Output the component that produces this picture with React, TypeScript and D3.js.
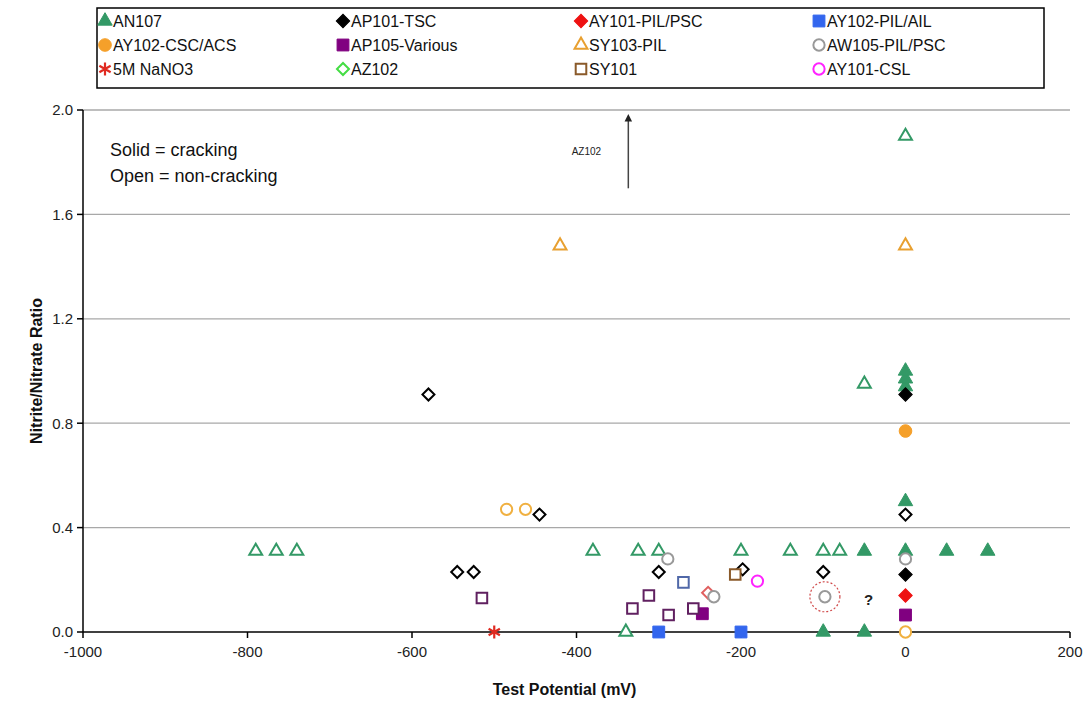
import React from "react";
import * as d3 from "d3";

// ---- data ----
// each point: [test potential mV, nitrite/nitrate ratio]
const an107Solid = [[-100, 0], [-50, 0], [-50, 0.31], [0, 0.31], [50, 0.31], [100, 0.31], [0, 0.5], [0, 0.94], [0, 0.97], [0, 1.0]];
const an107Open = [[-790, 0.31], [-765, 0.31], [-740, 0.31], [-380, 0.31], [-325, 0.31], [-300, 0.31], [-200, 0.31], [-140, 0.31], [-100, 0.31], [-80, 0.31], [-340, 0], [-50, 0.95], [0, 1.9]];
const ap101Solid = [[0, 0.91], [0, 0.22]];
const ap101Open = [[-580, 0.91], [-445, 0.45], [-545, 0.23], [-525, 0.23], [-300, 0.23], [-198, 0.24], [-100, 0.23], [0, 0.45]];
const ay101PilSolid = [[0, 0.14]];
const ay101PilOpen = [[-240, 0.15]];
const ay102PilSolid = [[-300, 0], [-200, 0]];
const ay102PilOpen = [[-270, 0.19]];
const ay102CscSolid = [[0, 0.77]];
const ay102CscOpen = [[-485, 0.47], [-462, 0.47], [0, 0]];
const ap105Solid = [[-247, 0.07], [0, 0.065]];
const ap105Open = [[-515, 0.13], [-312, 0.14], [-332, 0.09], [-288, 0.065], [-258, 0.09]];
const sy103Open = [[-420, 1.48], [0, 1.48]];
const aw105Open = [[-289, 0.28], [-233, 0.135], [-98, 0.135], [0, 0.28]];
const nano3 = [[-500, 0]];
const sy101Open = [[-207, 0.22]];
const ay101CslOpen = [[-180, 0.195]];

const xTicks = [-1000, -800, -600, -400, -200, 0, 200];
const yTicks = [0, 0.4, 0.8, 1.2, 1.6, 2.0];

type Shape = "triangle" | "diamond" | "square" | "circle" | "star";

const legendItems: { name: string; color: string; shape: Shape; open: boolean }[] = [
  { name: "AN107", color: "#339966", shape: "triangle", open: false },
  { name: "AP101-TSC", color: "#000000", shape: "diamond", open: false },
  { name: "AY101-PIL/PSC", color: "#ee1111", shape: "diamond", open: false },
  { name: "AY102-PIL/AIL", color: "#3366ee", shape: "square", open: false },
  { name: "AY102-CSC/ACS", color: "#f5a02a", shape: "circle", open: false },
  { name: "AP105-Various", color: "#800080", shape: "square", open: false },
  { name: "SY103-PIL", color: "#e8a030", shape: "triangle", open: true },
  { name: "AW105-PIL/PSC", color: "#999999", shape: "circle", open: true },
  { name: "5M NaNO3", color: "#e02a20", shape: "star", open: false },
  { name: "AZ102", color: "#44dd44", shape: "diamond", open: true },
  { name: "SY101", color: "#8a5a2a", shape: "square", open: true },
  { name: "AY101-CSL", color: "#ff22ff", shape: "circle", open: true },
];

const plotSeries: { pts: number[][]; color: string; shape: Shape; open: boolean }[] = [
  { pts: an107Solid, color: "#339966", shape: "triangle", open: false },
  { pts: an107Open, color: "#339966", shape: "triangle", open: true },
  { pts: ap101Solid, color: "#000000", shape: "diamond", open: false },
  { pts: ap101Open, color: "#000000", shape: "diamond", open: true },
  { pts: ay101PilSolid, color: "#ee1111", shape: "diamond", open: false },
  { pts: ay101PilOpen, color: "#e06060", shape: "diamond", open: true },
  { pts: ay102PilSolid, color: "#3366ee", shape: "square", open: false },
  { pts: ay102PilOpen, color: "#5068a8", shape: "square", open: true },
  { pts: ay102CscSolid, color: "#f5a02a", shape: "circle", open: false },
  { pts: ay102CscOpen, color: "#f0b040", shape: "circle", open: true },
  { pts: ap105Solid, color: "#800080", shape: "square", open: false },
  { pts: ap105Open, color: "#602060", shape: "square", open: true },
  { pts: sy103Open, color: "#e8a030", shape: "triangle", open: true },
  { pts: aw105Open, color: "#999999", shape: "circle", open: true },
  { pts: nano3, color: "#e02a20", shape: "star", open: false },
  { pts: sy101Open, color: "#8a5a2a", shape: "square", open: true },
  { pts: ay101CslOpen, color: "#ff22ff", shape: "circle", open: true },
];

const symbolPath = (shape: Shape, open: boolean) => {
  const shrink = open ? 0.8 : 1;
  if (shape === "triangle") return d3.symbol(d3.symbolTriangle, 90 * shrink)()!;
  if (shape === "square") return d3.symbol(d3.symbolSquare, 140 * shrink)()!;
  if (shape === "circle") return d3.symbol(d3.symbolCircle, 125 * shrink)()!;
  if (shape === "diamond") return d3.symbol(d3.symbolSquare, 90 * shrink)()!;
  return d3.symbol(d3.symbolAsterisk, 120)()!;
};

const Marker = ({ x, y, shape, color, open }: { x: number; y: number; shape: Shape; color: string; open: boolean }) => {
  const rot = shape === "diamond" ? 45 : 0;
  const star = shape === "star";
  return (
    <path
      d={symbolPath(shape, open)}
      transform={`translate(${x},${y}) rotate(${rot})`}
      fill={star ? "none" : open ? "white" : color}
      stroke={color}
      strokeWidth={star ? 2.2 : open ? 2 : 1}
    />
  );
};

export default function App() {
  const width = 1089;
  const height = 709;
  const margin = { left: 83, right: 19, top: 110, bottom: 77 };
  const x = d3.scaleLinear().domain([-1000, 200]).range([margin.left, width - margin.right]);
  const y = d3.scaleLinear().domain([0, 2]).range([height - margin.bottom, margin.top]);
  const font = "'Liberation Sans', Arial, sans-serif";

  const legendX = [105, 343, 581, 819];
  const legendY = [21, 45, 69];

  return (
    <svg width={width} height={height} style={{ position: "absolute", left: 0, top: 0, background: "white" }} fontFamily={font}>
      {/* legend */}
      <rect x={97} y={8} width={947} height={80} fill="white" stroke="black" strokeWidth={1.5} />
      {legendItems.map((d, i) => {
        const lx = legendX[i % 4];
        const ly = legendY[Math.floor(i / 4)];
        return (
          <g key={d.name}>
            <Marker x={lx} y={ly} shape={d.shape} color={d.color} open={d.open} />
            <text x={lx + 8} y={ly} dy="0.36em" fontSize={16} fill="#111">{d.name}</text>
          </g>
        );
      })}

      {/* gridlines */}
      {yTicks.filter((t) => t > 0).map((t) => (
        <line key={t} x1={x(-1000)} x2={x(200)} y1={y(t)} y2={y(t)} stroke="#a8a8a8" strokeWidth={1.3} />
      ))}

      {/* axes */}
      <line x1={x(-1000)} x2={x(200)} y1={y(0)} y2={y(0)} stroke="black" strokeWidth={1.5} />
      <line x1={x(-1000)} x2={x(-1000)} y1={y(0)} y2={y(2)} stroke="black" strokeWidth={1.5} />
      {xTicks.map((t) => (
        <g key={t}>
          <line x1={x(t)} x2={x(t)} y1={y(0)} y2={y(0) + 6} stroke="black" strokeWidth={1.5} />
          <text x={x(t)} y={y(0) + 25} textAnchor="middle" fontSize={15} fill="#222">{t}</text>
        </g>
      ))}
      {yTicks.map((t) => (
        <g key={t}>
          <line x1={x(-1000) - 6} x2={x(-1000)} y1={y(t)} y2={y(t)} stroke="black" strokeWidth={1.5} />
          <text x={x(-1000) - 10} y={y(t)} dy="0.36em" textAnchor="end" fontSize={15} fill="#222">{t.toFixed(1)}</text>
        </g>
      ))}
      <text x={(x(-1000) + x(200)) / 2 - 12} y={695} textAnchor="middle" fontSize={16} fontWeight="bold" fill="#111">
        Test Potential (mV)
      </text>
      <text transform={`translate(42,${y(1)}) rotate(-90)`} textAnchor="middle" fontSize={16} fontWeight="bold" fill="#111">
        Nitrite/Nitrate Ratio
      </text>

      {/* annotations */}
      <text x={110} y={156} fontSize={18} fill="#111">Solid = cracking</text>
      <text x={110} y={182} fontSize={18} fill="#111">Open = non-cracking</text>
      <text x={x(-370)} y={y(1.84)} dy="0.36em" textAnchor="end" fontSize={10} fill="#222">AZ102</text>
      <defs>
        <marker id="arr" viewBox="0 0 10 10" refX="5" refY="5" markerWidth="5" markerHeight="6" orient="auto">
          <path d="M0,0 L10,5 L0,10 z" fill="#222" />
        </marker>
      </defs>
      <line x1={x(-337)} x2={x(-337)} y1={y(1.7)} y2={y(1.97)} stroke="#444" strokeWidth={1.5} markerEnd="url(#arr)" />

      {/* points */}
      {plotSeries.map((s, si) =>
        s.pts.map((p, pi) => (
          <Marker key={`${si}-${pi}`} x={x(p[0])} y={y(p[1])} shape={s.shape} color={s.color} open={s.open} />
        ))
      )}
      <circle cx={x(-98)} cy={y(0.135)} r={15} fill="none" stroke="#d04848" strokeWidth={1.2} strokeDasharray="2,2" />
      <text x={x(-45)} y={y(0.125)} dy="0.36em" textAnchor="middle" fontSize={15} fontWeight="bold" fill="#222">?</text>
    </svg>
  );
}
